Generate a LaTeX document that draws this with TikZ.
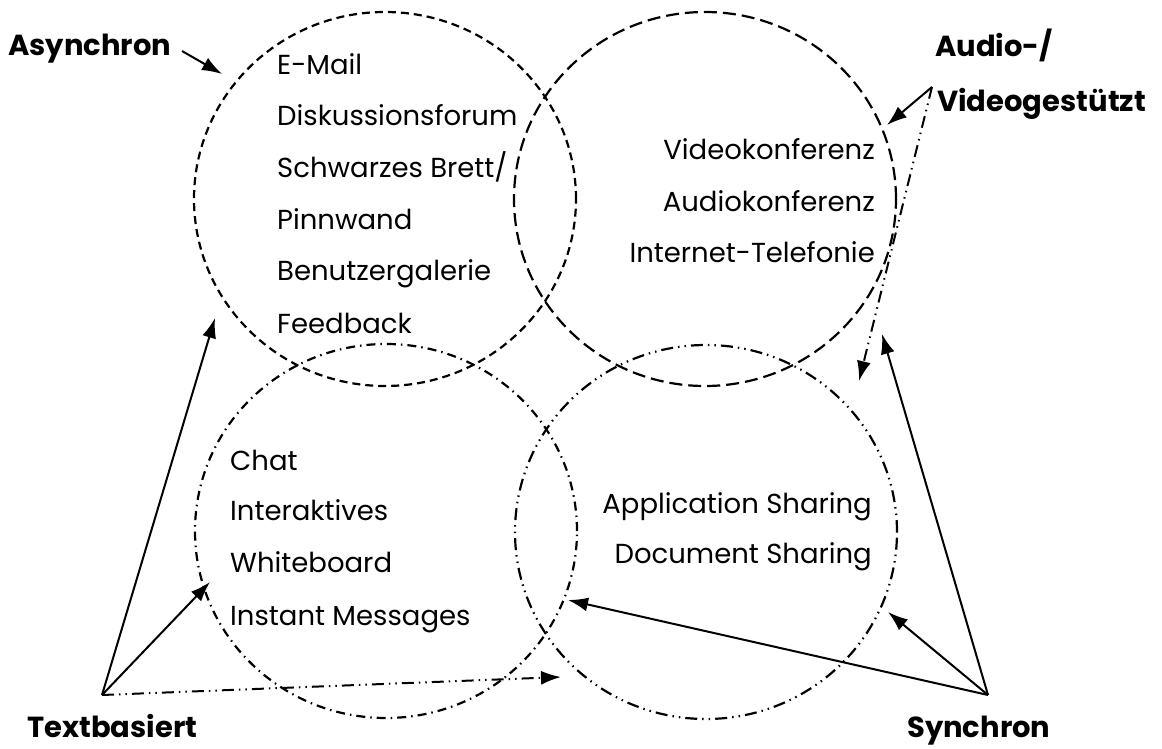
\documentclass[tikz,border=0pt]{standalone}
\usepackage{fontspec}
\setmainfont{Poppins}
\usetikzlibrary{shapes.geometric,arrows.meta}
\begin{document}
\begin{tikzpicture}[x=1pt,y=-1pt,
  ring/.style={ellipse,draw,line width=2.2pt,inner sep=0pt,minimum width=382pt,minimum height=374pt},
  item/.style={font=\fontsize{27.5}{27.5}\selectfont,inner sep=0pt},
  lbl/.style={font=\fontsize{29}{29}\selectfont\bfseries,inner sep=0pt},
  arr/.style={line width=2pt,-{Latex[length=20pt,width=14pt]}},
  ddot/.style={dash pattern=on 12pt off 5pt on 1.5pt off 5pt on 1.5pt off 5pt}]
\useasboundingbox (0,0) rectangle (1162,749);
% circles
\node[ring,dash pattern=on 8pt off 5pt] (c1) at (385,199) {};
\node[ring,dash pattern=on 13pt off 6pt] (c2) at (705,199) {};
\node[ring,dash pattern=on 9pt off 5pt on 1.5pt off 5pt] (c3) at (386,531) {};
\node[ring,ddot] (c4) at (706,532) {};
% circle 1 texts
\node[item,anchor=base west] (t11) at (277,75) {E-Mail};
\node[item,anchor=base west] (t12) at (277,126) {Diskussionsforum};
\node[item,anchor=base west] (t13) at (277,177) {Schwarzes Brett/};
\node[item,anchor=base west] (t14) at (277,229) {Pinnwand};
\node[item,anchor=base west] (t15) at (277,280) {Benutzergalerie};
\node[item,anchor=base west] (t16) at (277,333) {Feedback};
% circle 2 texts
\node[item,anchor=base east] (t21) at (875,160) {Videokonferenz};
\node[item,anchor=base east] (t22) at (875,211) {Audiokonferenz};
\node[item,anchor=base east] (t23) at (875,262) {Internet-Telefonie};
% circle 3 texts
\node[item,anchor=base west] (t31) at (230,470) {Chat};
\node[item,anchor=base west] (t32) at (230,520) {Interaktives};
\node[item,anchor=base west] (t33) at (230,572) {Whiteboard};
\node[item,anchor=base west] (t34) at (230,625) {Instant Messages};
% circle 4 texts
\node[item,anchor=base east] (t41) at (872,513) {Application Sharing};
\node[item,anchor=base east] (t42) at (872,563) {Document Sharing};
% labels
\node[lbl,anchor=base west] (async) at (8,56) {Asynchron};
\node[lbl,anchor=base west] (audio) at (935,57) {Audio-/};
\node[lbl,anchor=base west] (video) at (937,112) {Videogestützt};
\node[lbl,anchor=base west] (textb) at (27,737) {Textbasiert};
\node[lbl,anchor=base west] (sync) at (907,737) {Synchron};
% apex / tip coordinates
\coordinate (aA) at (182,51);
\coordinate (aAt) at (222,74);
\coordinate (aV) at (932,87);
\coordinate (aVt1) at (887,125);
\coordinate (aVt2) at (859,381);
\coordinate (aT) at (102,695);
\coordinate (aTt1) at (215,318);
\coordinate (aTt2) at (210,582);
\coordinate (aTt3) at (561,677);
\coordinate (aS) at (988,695);
\coordinate (aSt1) at (882,334);
\coordinate (aSt2) at (888,612);
\coordinate (aSt3) at (568,600);
% arrows
\draw[arr] (aA) -- (aAt);
\draw[arr] (aV) -- (aVt1);
\draw[arr,ddot] (aV) -- (aVt2);
\draw[arr] (aT) -- (aTt1);
\draw[arr] (aT) -- (aTt2);
\draw[arr,ddot] (aT) -- (aTt3);
\draw[arr] (aS) -- (aSt1);
\draw[arr] (aS) -- (aSt2);
\draw[arr] (aS) -- (aSt3);
\end{tikzpicture}
\end{document}
